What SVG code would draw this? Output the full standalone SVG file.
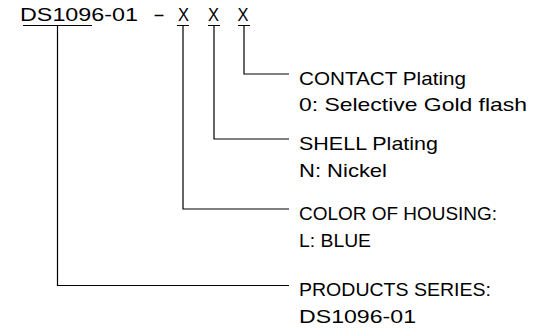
<svg xmlns="http://www.w3.org/2000/svg" width="539" height="334" viewBox="0 0 539 334">
<style>
text{font-family:"Liberation Sans",Arial,sans-serif;font-size:19px;fill:#000}
.ln{fill:none;stroke:#000;stroke-width:1.2}
</style>
<rect width="539" height="334" fill="#fff"/>
<g id="title">
<text y="21"><tspan x="20" textLength="118" lengthAdjust="spacingAndGlyphs">DS1096-01</tspan><tspan x="153" textLength="12" lengthAdjust="spacingAndGlyphs">-</tspan><tspan x="178" textLength="11" lengthAdjust="spacingAndGlyphs">X</tspan><tspan x="208" textLength="11" lengthAdjust="spacingAndGlyphs">X</tspan><tspan x="237.5" textLength="11" lengthAdjust="spacingAndGlyphs">X</tspan></text>
</g>
<g id="connectors">
<path class="ln" d="M23 25.5H92M57.5 25.5V285.5H289"/>
<path class="ln" d="M177 25.5H189M183 25.5V209H289"/>
<path class="ln" d="M208 25.5H220M214 25.5V139H289"/>
<path class="ln" d="M238 25.5H250M244 25.5V74H289"/>
</g>
<g id="contact">
<text x="299" y="84.5" textLength="167" lengthAdjust="spacingAndGlyphs">CONTACT Plating</text>
<text x="299" y="110.5" textLength="228" lengthAdjust="spacingAndGlyphs">0: Selective Gold flash</text>
</g>
<g id="shell">
<text x="299" y="150" textLength="139" lengthAdjust="spacingAndGlyphs">SHELL Plating</text>
<text x="299" y="176.5" textLength="88" lengthAdjust="spacingAndGlyphs">N: Nickel</text>
</g>
<g id="color">
<text x="299" y="220" textLength="198" lengthAdjust="spacingAndGlyphs">COLOR OF HOUSING:</text>
<text x="299" y="247" textLength="72" lengthAdjust="spacingAndGlyphs">L: BLUE</text>
</g>
<g id="series">
<text x="299" y="296" textLength="192" lengthAdjust="spacingAndGlyphs">PRODUCTS SERIES:</text>
<text x="299" y="322.5" textLength="117" lengthAdjust="spacingAndGlyphs">DS1096-01</text>
</g>
</svg>
